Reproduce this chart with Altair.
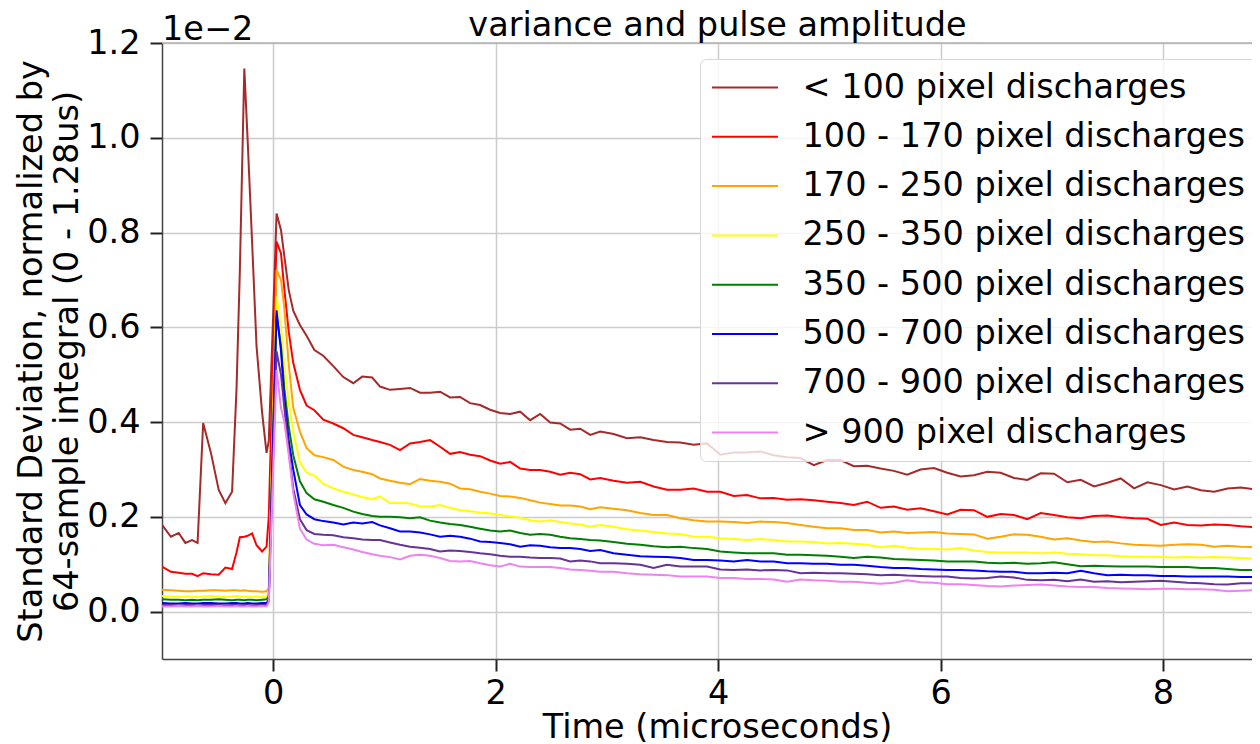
import altair as alt
import pandas as pd

# time axis (microseconds)
time_us = [
    -1.00, -0.92, -0.85, -0.79, -0.73, -0.68, -0.63, -0.56, -0.49, -0.43,
    -0.37, -0.33, -0.30, -0.26, -0.23, -0.19, -0.15, -0.10, -0.06, -0.04,
    0.00, 0.03, 0.07, 0.10, 0.14, 0.18, 0.24, 0.30,
    0.37, 0.45, 0.54, 0.63, 0.72, 0.80, 0.89, 0.96,
    1.05, 1.14, 1.23, 1.32, 1.41, 1.50, 1.59, 1.68, 1.77, 1.86, 1.95,
    2.04, 2.13, 2.22, 2.31, 2.40, 2.49, 2.58, 2.67, 2.76, 2.85, 2.94,
    3.06, 3.18, 3.30, 3.42, 3.54, 3.66, 3.78, 3.90, 4.02, 4.14,
    4.26, 4.38, 4.50, 4.62, 4.74, 4.86, 4.98, 5.10, 5.22, 5.34,
    5.46, 5.58, 5.70, 5.82, 5.94, 6.06, 6.18, 6.30, 6.42, 6.54,
    6.66, 6.78, 6.90, 7.02, 7.14, 7.26, 7.38, 7.50, 7.62, 7.74,
    7.86, 7.98, 8.10, 8.22, 8.34, 8.46, 8.58, 8.70, 8.82, 8.90,
]

sd_lt100 = [
    0.183, 0.158, 0.166, 0.145, 0.151, 0.145, 0.398, 0.335, 0.257, 0.229,
    0.253, 0.470, 0.720, 1.146, 0.995, 0.780, 0.560, 0.420, 0.335, 0.360,
    0.630, 0.840, 0.805, 0.750, 0.678, 0.635, 0.605, 0.582,
    0.552, 0.540, 0.518, 0.495, 0.482, 0.496, 0.494, 0.475,
    0.468, 0.470, 0.472, 0.462, 0.462, 0.464, 0.452, 0.453, 0.440, 0.436, 0.426,
    0.419, 0.417, 0.422, 0.404, 0.417, 0.399, 0.397, 0.384, 0.386, 0.373, 0.380,
    0.375, 0.366, 0.368, 0.362, 0.358, 0.357, 0.352, 0.355, 0.331, 0.336,
    0.336, 0.338, 0.330, 0.326, 0.324, 0.309, 0.320, 0.320, 0.307, 0.308,
    0.302, 0.297, 0.289, 0.300, 0.303, 0.293, 0.285, 0.288, 0.295, 0.293,
    0.282, 0.278, 0.292, 0.291, 0.273, 0.278, 0.264, 0.272, 0.281, 0.260,
    0.273, 0.267, 0.258, 0.264, 0.256, 0.253, 0.260, 0.262, 0.258, 0.260,
]

sd_100_170 = [
    0.095, 0.084, 0.082, 0.080, 0.080, 0.075, 0.081, 0.079, 0.078, 0.093,
    0.090, 0.125, 0.157, 0.158, 0.160, 0.165, 0.140, 0.127, 0.137, 0.200,
    0.550, 0.781, 0.756, 0.680, 0.590, 0.525, 0.468, 0.435,
    0.425, 0.405, 0.397, 0.387, 0.373, 0.368, 0.362, 0.358,
    0.352, 0.341, 0.355, 0.358, 0.362, 0.348, 0.333, 0.337, 0.331, 0.328, 0.319,
    0.312, 0.316, 0.302, 0.299, 0.299, 0.295, 0.289, 0.293, 0.290, 0.279, 0.282,
    0.276, 0.272, 0.274, 0.264, 0.257, 0.257, 0.260, 0.253, 0.253, 0.244,
    0.246, 0.239, 0.240, 0.236, 0.237, 0.235, 0.232, 0.229, 0.225, 0.232,
    0.219, 0.222, 0.215, 0.218, 0.212, 0.205, 0.215, 0.214, 0.200, 0.206,
    0.204, 0.195, 0.208, 0.204, 0.199, 0.197, 0.202, 0.203, 0.199, 0.197,
    0.196, 0.183, 0.188, 0.183, 0.182, 0.184, 0.183, 0.180, 0.178, 0.176,
]

sd_170_250 = [
    0.046, 0.045, 0.044, 0.043, 0.043, 0.044, 0.044, 0.045, 0.045, 0.044,
    0.045, 0.045, 0.044, 0.045, 0.044, 0.043, 0.043, 0.042, 0.043, 0.050,
    0.450, 0.721, 0.700, 0.640, 0.520, 0.430, 0.380, 0.345,
    0.330, 0.326, 0.320, 0.306, 0.299, 0.295, 0.290, 0.281,
    0.276, 0.272, 0.269, 0.280, 0.276, 0.274, 0.270, 0.260, 0.258, 0.253, 0.249,
    0.244, 0.243, 0.240, 0.235, 0.230, 0.227, 0.224, 0.224, 0.222, 0.216, 0.220,
    0.217, 0.214, 0.208, 0.204, 0.204, 0.197, 0.193, 0.190, 0.190, 0.189,
    0.187, 0.190, 0.189, 0.187, 0.183, 0.179, 0.176, 0.176, 0.172, 0.172,
    0.167, 0.169, 0.166, 0.167, 0.168, 0.165, 0.164, 0.163, 0.154, 0.158,
    0.163, 0.162, 0.158, 0.152, 0.155, 0.150, 0.147, 0.148, 0.144, 0.141,
    0.140, 0.139, 0.141, 0.142, 0.141, 0.137, 0.139, 0.137, 0.136, 0.135,
]

sd_250_350 = [
    0.033, 0.032, 0.031, 0.032, 0.032, 0.031, 0.032, 0.033, 0.032, 0.031,
    0.032, 0.033, 0.032, 0.031, 0.032, 0.031, 0.032, 0.031, 0.032, 0.040,
    0.400, 0.665, 0.600, 0.520, 0.440, 0.380, 0.315, 0.293,
    0.287, 0.270, 0.260, 0.253, 0.247, 0.242, 0.237, 0.243,
    0.229, 0.230, 0.228, 0.222, 0.222, 0.225, 0.219, 0.214, 0.212, 0.209, 0.207,
    0.204, 0.201, 0.198, 0.193, 0.190, 0.193, 0.189, 0.186, 0.184, 0.179, 0.183,
    0.179, 0.174, 0.171, 0.168, 0.165, 0.164, 0.158, 0.158, 0.155, 0.153,
    0.151, 0.153, 0.151, 0.148, 0.148, 0.147, 0.144, 0.145, 0.143, 0.141,
    0.136, 0.139, 0.135, 0.132, 0.132, 0.131, 0.134, 0.129, 0.126, 0.125,
    0.125, 0.125, 0.123, 0.125, 0.122, 0.121, 0.119, 0.119, 0.117, 0.116,
    0.116, 0.115, 0.114, 0.115, 0.114, 0.115, 0.114, 0.113, 0.112, 0.112,
]

sd_350_500 = [
    0.026, 0.025, 0.025, 0.024, 0.025, 0.024, 0.025, 0.025, 0.026, 0.025,
    0.024, 0.025, 0.025, 0.024, 0.025, 0.025, 0.024, 0.025, 0.026, 0.032,
    0.380, 0.625, 0.560, 0.470, 0.390, 0.330, 0.275, 0.250,
    0.237, 0.232, 0.225, 0.219, 0.211, 0.206, 0.202, 0.200,
    0.200, 0.199, 0.197, 0.199, 0.192, 0.188, 0.185, 0.183, 0.179, 0.175, 0.171,
    0.169, 0.171, 0.166, 0.162, 0.164, 0.162, 0.158, 0.155, 0.153, 0.151, 0.150,
    0.147, 0.143, 0.141, 0.138, 0.136, 0.137, 0.134, 0.132, 0.127, 0.125,
    0.123, 0.123, 0.123, 0.120, 0.120, 0.119, 0.118, 0.116, 0.113, 0.116,
    0.114, 0.111, 0.110, 0.109, 0.108, 0.106, 0.106, 0.106, 0.103, 0.102,
    0.103, 0.101, 0.102, 0.104, 0.100, 0.096, 0.097, 0.096, 0.095, 0.095,
    0.095, 0.094, 0.094, 0.094, 0.092, 0.092, 0.090, 0.088, 0.088, 0.088,
]

sd_500_700 = [
    0.018, 0.017, 0.017, 0.018, 0.017, 0.017, 0.018, 0.018, 0.017, 0.017,
    0.018, 0.018, 0.017, 0.017, 0.018, 0.017, 0.017, 0.018, 0.018, 0.025,
    0.380, 0.636, 0.550, 0.450, 0.360, 0.300, 0.225, 0.205,
    0.195, 0.191, 0.188, 0.184, 0.188, 0.186, 0.189, 0.182,
    0.176, 0.169, 0.169, 0.167, 0.163, 0.158, 0.160, 0.158, 0.154, 0.148, 0.147,
    0.145, 0.142, 0.137, 0.140, 0.139, 0.136, 0.134, 0.134, 0.132, 0.128, 0.130,
    0.123, 0.120, 0.117, 0.116, 0.115, 0.113, 0.109, 0.109, 0.108, 0.106,
    0.109, 0.106, 0.106, 0.102, 0.102, 0.101, 0.101, 0.099, 0.099, 0.097,
    0.094, 0.092, 0.092, 0.090, 0.089, 0.088, 0.088, 0.087, 0.085, 0.084,
    0.084, 0.081, 0.081, 0.082, 0.081, 0.086, 0.081, 0.077, 0.078, 0.077,
    0.077, 0.075, 0.075, 0.074, 0.074, 0.074, 0.074, 0.073, 0.073, 0.073,
]

sd_700_900 = [
    0.014, 0.014, 0.013, 0.014, 0.014, 0.013, 0.014, 0.014, 0.014, 0.013,
    0.014, 0.014, 0.013, 0.014, 0.014, 0.013, 0.014, 0.014, 0.014, 0.022,
    0.330, 0.549, 0.500, 0.430, 0.340, 0.260, 0.195, 0.172,
    0.164, 0.162, 0.161, 0.157, 0.155, 0.152, 0.151, 0.151,
    0.146, 0.141, 0.137, 0.135, 0.132, 0.127, 0.129, 0.128, 0.126, 0.123, 0.121,
    0.118, 0.116, 0.116, 0.114, 0.113, 0.113, 0.112, 0.106, 0.108, 0.106, 0.102,
    0.102, 0.101, 0.099, 0.092, 0.099, 0.095, 0.095, 0.095, 0.089, 0.088,
    0.089, 0.087, 0.088, 0.087, 0.081, 0.082, 0.081, 0.081, 0.080, 0.079,
    0.077, 0.078, 0.076, 0.075, 0.074, 0.074, 0.071, 0.070, 0.071, 0.074,
    0.072, 0.067, 0.066, 0.067, 0.064, 0.068, 0.063, 0.064, 0.062, 0.063,
    0.064, 0.065, 0.063, 0.061, 0.060, 0.058, 0.057, 0.060, 0.060, 0.060,
]

sd_gt900 = [
    0.011, 0.011, 0.012, 0.011, 0.011, 0.012, 0.011, 0.011, 0.012, 0.011,
    0.011, 0.012, 0.011, 0.011, 0.012, 0.011, 0.011, 0.012, 0.011, 0.020,
    0.300, 0.510, 0.430, 0.400, 0.330, 0.250, 0.175, 0.152,
    0.143, 0.140, 0.141, 0.136, 0.131, 0.126, 0.121, 0.118,
    0.115, 0.110, 0.118, 0.120, 0.118, 0.113, 0.107, 0.106, 0.107, 0.102, 0.098,
    0.095, 0.101, 0.095, 0.094, 0.094, 0.094, 0.092, 0.089, 0.088, 0.086, 0.084,
    0.084, 0.081, 0.079, 0.078, 0.077, 0.074, 0.074, 0.074, 0.071, 0.071,
    0.069, 0.069, 0.068, 0.063, 0.068, 0.066, 0.065, 0.063, 0.063, 0.061,
    0.059, 0.061, 0.066, 0.062, 0.061, 0.058, 0.058, 0.056, 0.054, 0.053,
    0.055, 0.056, 0.057, 0.055, 0.053, 0.052, 0.052, 0.050, 0.049, 0.048,
    0.047, 0.048, 0.048, 0.047, 0.047, 0.046, 0.043, 0.044, 0.045, 0.045,
]

labels = [
    "< 100 pixel discharges",
    "100 - 170 pixel discharges",
    "170 - 250 pixel discharges",
    "250 - 350 pixel discharges",
    "350 - 500 pixel discharges",
    "500 - 700 pixel discharges",
    "700 - 900 pixel discharges",
    "> 900 pixel discharges",
]
colors = ["#a52a2a", "#ff0000", "#ffa500", "#ffff00",
          "#008000", "#0000ff", "#663399", "#ee82ee"]
series = [sd_lt100, sd_100_170, sd_170_250, sd_250_350,
          sd_350_500, sd_500_700, sd_700_900, sd_gt900]

x_ticks = [0, 2, 4, 6, 8]
y_ticks = [0.0, 0.2, 0.4, 0.6, 0.8, 1.0, 1.2]

title_text = "variance and pulse amplitude"
offset_label = "1e\u22122"

for s in series:
    assert len(s) == len(time_us), len(s)

rows = []
for lab, vals in zip(labels, series):
    for t, v in zip(time_us, vals):
        rows.append({"time": t, "sd": v, "group": lab})
df = pd.DataFrame(rows)

FONT = "DejaVu Sans"
FS = 33.5
W, H = 1090, 616

lines = alt.Chart(df).mark_line(strokeWidth=2, clip=True).encode(
    x=alt.X("time:Q",
            scale=alt.Scale(domain=[-1, 8.80], nice=False, zero=False),
            axis=alt.Axis(values=x_ticks, format="d",
                          title="Time (microseconds)",
                          titleX=555, titleY=78, titleAlign="center",
                          titleBaseline="alphabetic",
                          labelPadding=6)),
    y=alt.Y("sd:Q",
            scale=alt.Scale(domain=[-0.1, 1.2], nice=False, zero=False),
            axis=alt.Axis(values=y_ticks, format=".1f",
                          title=["Standard Deviation, normalized by",
                                 "64-sample integral (0 - 1.28us)"],
                          titleAngle=270, titleX=-121, titleY=308,
                          titleAlign="center", titleBaseline="alphabetic",
                          titleLineHeight=36, labelPadding=10)),
    color=alt.Color("group:N",
                    scale=alt.Scale(domain=labels, range=colors),
                    sort=labels,
                    legend=alt.Legend(orient="none", legendX=538, legendY=16,
                                      title=None, symbolType="M-2,0H2",
                                      symbolSize=1089, symbolStrokeWidth=2,
                                      symbolOffset=16.5,
                                      labelFontSize=FS, labelFont=FONT,
                                      labelColor="black", labelOffset=40,
                                      labelLimit=1000, rowPadding=15.3,
                                      padding=11,
                                      fillColor="rgba(255,255,255,0.8)",
                                      strokeColor="#d6d6d6",
                                      cornerRadius=6)),
)

top_spine = alt.Chart(pd.DataFrame({"k": [0]})).mark_rule(
    color="#b0b0b0", strokeWidth=1.5
).encode(x=alt.value(0), x2=alt.value(W), y=alt.value(0))

offset_text = alt.Chart(pd.DataFrame({"txt": [offset_label]})).mark_text(
    align="left", baseline="alphabetic", fontSize=FS, font=FONT, color="black"
).encode(x=alt.value(0), y=alt.value(-3), text="txt:N")

title_mark = alt.Chart(pd.DataFrame({"txt": [title_text]})).mark_text(
    align="center", baseline="alphabetic", fontSize=FS, font=FONT, color="black"
).encode(x=alt.value(555.5), y=alt.value(-7), text="txt:N")

chart = alt.layer(lines, top_spine, offset_text, title_mark).properties(
    width=W, height=H,
    padding={"left": 154, "top": 35, "right": 0, "bottom": 85},
    autosize=alt.AutoSizeParams(type="none"),
).configure_view(
    stroke="transparent"
).configure_axis(
    labelFont=FONT, labelFontSize=FS, labelColor="black",
    titleFont=FONT, titleFontSize=FS, titleFontWeight="normal",
    titleColor="black",
    tickSize=12, tickWidth=2, tickColor="#222222",
    domainColor="#444444", domainWidth=1.5,
    gridColor="#cccccc", gridWidth=1.5,
)

chart.save("out.html", embed_options={"renderer": "svg", "actions": False})
